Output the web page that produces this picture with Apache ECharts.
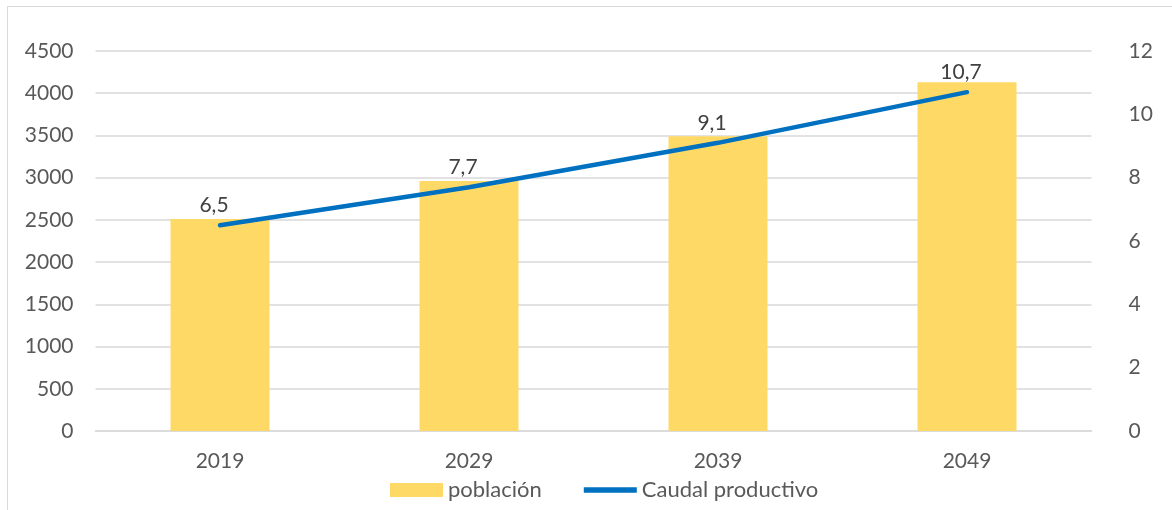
<!DOCTYPE html>
<html><head><meta charset="utf-8">
<script src="https://cdn.jsdelivr.net/npm/echarts@6/dist/echarts.min.js"></script>
<style>
html,body{margin:0;padding:0;background:#fff;}
#frame{position:absolute;left:7px;top:6px;width:1180px;height:520px;border:1px solid #d9d9d9;box-sizing:border-box;}
#c{position:absolute;left:0;top:0;width:1172px;height:510px;}
</style></head>
<body>
<div id="frame"></div>
<div id="c"></div>
<script>
const categories = ['2019','2029','2039','2049'];
const poblacion = [2510, 2960, 3490, 4130];
const caudal = [6.5, 7.7, 9.1, 10.7];
const leftTicks = {min:0, max:4500, interval:500};
const rightTicks = {min:0, max:12, interval:2};

const font = 'Lato, "Open Sans", sans-serif';
const chart = echarts.init(document.getElementById('c'), null, {renderer:'canvas'});
chart.setOption({
  animation:false,
  textStyle:{fontFamily:font},
  grid:{left:95.5, right:80.5, top:51, bottom:79, containLabel:false},
  legend:{
    bottom:4, left:385, itemGap:42, itemWidth:53, itemHeight:14,
    textStyle:{fontSize:22, color:'#595959', fontFamily:font},
    data:[{name:'población', icon:'rect'},{name:'Caudal productivo', icon:'path://M0,0 L56,0 L56,6 L0,6 Z'}]
  },
  xAxis:{
    type:'category', data:categories,
    axisLine:{lineStyle:{color:'#d9d9d9', width:1.5}},
    axisTick:{show:false},
    axisLabel:{fontSize:21, color:'#595959', margin:20, fontFamily:font}
  },
  yAxis:[
    {type:'value', min:leftTicks.min, max:leftTicks.max, interval:leftTicks.interval,
     axisLine:{show:false}, axisTick:{show:false},
     splitLine:{lineStyle:{color:'#d9d9d9', width:1.5}},
     axisLabel:{fontSize:21, color:'#595959', margin:22, fontFamily:font, formatter:v=>String(v)}},
    {type:'value', min:rightTicks.min, max:rightTicks.max, interval:rightTicks.interval,
     axisLine:{show:false}, axisTick:{show:false}, splitLine:{show:false},
     axisLabel:{fontSize:21, color:'#595959', margin:37, align:'left', fontFamily:font}}
  ],
  series:[
    {name:'población', type:'bar', data:poblacion, barWidth:99, yAxisIndex:0,
     itemStyle:{color:'#FFD966'}},
    {name:'Caudal productivo', type:'line', data:caudal, yAxisIndex:1,
     symbol:'circle', symbolSize:1, showSymbol:true,
     lineStyle:{color:'#0070C0', width:4.5, cap:'round'},
     itemStyle:{color:'#0070C0'},
     label:{show:true, position:'top', distance:9, offset:[-6,0], fontSize:21, color:'#404040', fontFamily:font,
       formatter:p=>String(p.value).replace('.',',')}}
  ]
});
</script>
</body></html>
